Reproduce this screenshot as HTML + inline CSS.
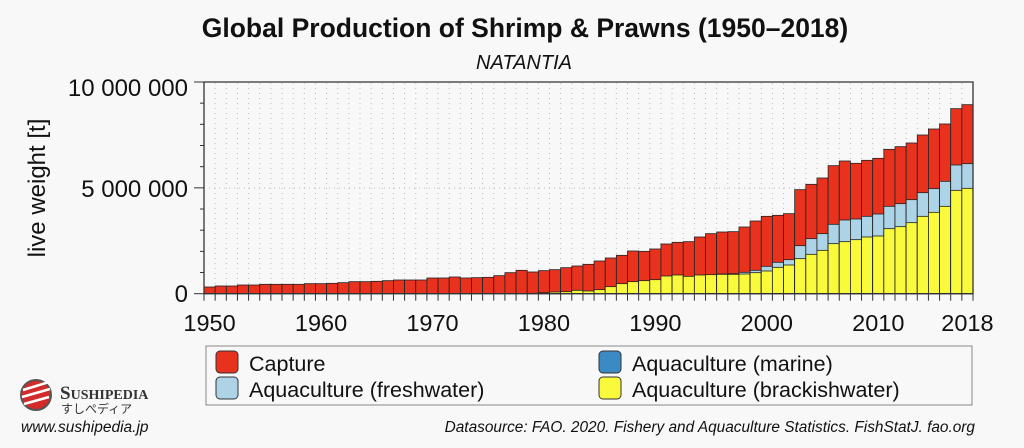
<!DOCTYPE html>
<html><head><meta charset="utf-8"><style>
html,body{margin:0;padding:0;background:#f8f8f8;}
svg{display:block;font-family:"Liberation Sans",Arial,sans-serif;}
</style></head><body>
<svg id="s" width="1024" height="448" xmlns="http://www.w3.org/2000/svg">
<rect width="1024" height="448" fill="#f8f8f8"/>
<text x="525" y="37" text-anchor="middle" font-size="26.5" font-weight="bold" fill="#111">Global Production of Shrimp &amp; Prawns (1950–2018)</text>
<text x="524" y="69" text-anchor="middle" font-size="20" font-style="italic" fill="#111">NATANTIA</text>
<text transform="translate(45,188) rotate(-90)" text-anchor="middle" font-size="24" fill="#111">live weight [t]</text>
<text x="188" y="96" text-anchor="end" font-size="24" fill="#111">10 000 000</text>
<text x="188" y="197" text-anchor="end" font-size="24" fill="#111">5 000 000</text>
<text x="188" y="302" text-anchor="end" font-size="24" fill="#111">0</text>
<g id="g"></g>
<rect x="206" y="346" width="766" height="59" fill="none" stroke="#888" stroke-width="1"/>
<rect x="216" y="351" width="22" height="22" rx="4" fill="#e8321e" stroke="#333"/>
<rect x="216" y="377" width="22" height="22" rx="4" fill="#add3e6" stroke="#333"/>
<rect x="599" y="351" width="22" height="22" rx="4" fill="#3b8ac4" stroke="#333"/>
<rect x="599" y="377" width="22" height="22" rx="4" fill="#fafa3c" stroke="#333"/>
<g font-size="21.5" fill="#111">
<text x="249" y="371">Capture</text>
<text x="249" y="397">Aquaculture (freshwater)</text>
<text x="632" y="371">Aquaculture (marine)</text>
<text x="632" y="397">Aquaculture (brackishwater)</text>
</g>
<text x="975" y="432" text-anchor="end" font-size="15.4" font-style="italic" fill="#111">Datasource: FAO. 2020. Fishery and Aquaculture Statistics. FishStatJ. fao.org</text>
<text x="21" y="432" font-size="15.5" font-style="italic" fill="#111">www.sushipedia.jp</text>
<circle cx="36" cy="395" r="15" fill="#d42a2a" stroke="#555" stroke-width="2"/>
<path d="M23 390 L49 382 M22 397 L50 389 M24 404 L49 397" stroke="#fff" stroke-width="2.5"/>
<text x="60" y="399" font-size="19" font-weight="bold" font-family="Liberation Serif,serif" fill="#333">S<tspan font-size="14">USHIPEDIA</tspan></text>
<text x="61" y="413" font-size="12" font-family="Liberation Sans,'Noto Sans CJK JP',sans-serif" fill="#333">すしぺディア</text>
</svg>
<script>
var red=[636,633,633,630,630,628,628,628,628,626,626,625,623,620,620,619,617,615,615,615,609,609,606,609,608,607,602,593,586,591,587,584,578,573,
568,558,549,541,528,529,522,507,502,500,486,476,471,470,456,438,424,421,416,344,328,309,272,258,265,256,250,223,215,204,180,162,147,101,89];
var yel={1979:655,1980:653,1981:651,1982:650,1983:646,1984:648,1985:644,1986:635,1987:626,1988:620,1989:617,1990:614,1991:603,1992:600,1993:604,1994:600,1995:599,1996:598,1997:598,1998:597,1999:593,2000:588,2001:577,2002:570,2003:551,2004:538,2005:526,2006:506,2007:500,2008:494,2009:486,2010:483,2011:461,2012:455,2013:443,2014:424,2015:412,2016:394,2017:346,2018:340};
var blu={1996:597,1997:596,1998:592,1999:586,2000:574,2001:562,2002:554,2003:512,2004:491,2005:476,2006:448,2007:435,2008:432,2009:424,2010:417,2011:394,2012:386,2013:374,2014:353,2015:341,2016:319,2017:270,2018:266};
var base=293.7,L=204,R=973,w=(R-L)/69,s='';
function Y(z){return 75+z/3;}
for(var i=1;i<69;i++){var x=L+i*w;s+='<line x1="'+x+'" y1="83" x2="'+x+'" y2="'+base+'" stroke="#bbb" stroke-width="1" stroke-dasharray="1,4"/>';}
s+='<line x1="'+L+'" y1="188" x2="'+R+'" y2="188" stroke="#bbb" stroke-dasharray="1,4"/>';
for(var i=0;i<69;i++){var yr=1950+i,x=L+i*w;
 var yt=Y(red[i]);
 s+='<rect x="'+x+'" y="'+yt+'" width="'+w+'" height="'+(base-yt)+'" fill="#e8321e" stroke="#222" stroke-width="0.8"/>';
 if(blu[yr]){var b=Y(blu[yr]);s+='<rect x="'+x+'" y="'+b+'" width="'+w+'" height="'+(base-b)+'" fill="#add3e6" stroke="#222" stroke-width="0.8"/>';}
 if(yel[yr]){var t=Y(yel[yr]);s+='<rect x="'+x+'" y="'+t+'" width="'+w+'" height="'+(base-t)+'" fill="#fafa3c" stroke="#222" stroke-width="0.8"/>';}
 s+='<line x1="'+x+'" y1="'+base+'" x2="'+x+'" y2="'+(base+7)+'" stroke="#333"/>';
}
s+='<line x1="'+R+'" y1="'+base+'" x2="'+R+'" y2="'+(base+7)+'" stroke="#333"/>';
s+='<path d="M'+L+' 82 H'+R+' V'+base+' H'+L+' Z" fill="none" stroke="#333" stroke-width="1.3"/>';
for(var m=0;m<=10;m++){var y=base-m*21.17;var l=(m%5==0)?10:4;s+='<line x1="'+(L-l)+'" y1="'+y+'" x2="'+L+'" y2="'+y+'" stroke="#333"/>';}
[1950,1960,1970,1980,1990,2000,2010,2018].forEach(function(yr){var x=L+(yr-1950)*w+w/2;s+='<text x="'+x+'" y="331" text-anchor="middle" font-size="23.5" fill="#111">'+yr+'</text>';});
document.getElementById('g').innerHTML=s;
</script>
</body></html>
